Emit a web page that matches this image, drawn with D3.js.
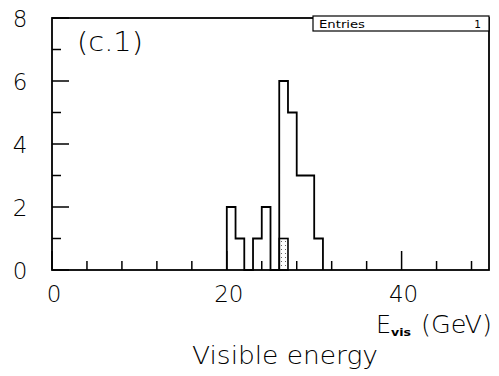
<!DOCTYPE html>
<html>
<head>
<meta charset="utf-8">
<script src="https://cdn.jsdelivr.net/npm/d3@7"></script>
<style>
  html, body { margin: 0; padding: 0; background: #fff; }
  svg text { font-family: "DejaVu Sans", "Open Sans", sans-serif; font-weight: 200; fill: #000; }
</style>
</head>
<body>
<svg id="chart" width="499" height="376"></svg>
<script>
// Histogram of visible energy, 1 GeV bins
const binLow = [20, 21, 22, 23, 24, 25, 26, 27, 28, 29, 30];
const counts = [2, 1, 0, 1, 2, 0, 6, 5, 3, 3, 1];
// Dotted (selected) sub-histogram
const selLow = [26];
const selCounts = [1];
const binWidth = 1;

const xTicksMajor = [0, 20, 40];
const xTicksMinor = [4, 8, 12, 16, 24, 28, 32, 36, 44, 48];
const yTicksMajor = [0, 2, 4, 6, 8];
const yTicksMinor = [1, 3, 5, 7];

const svg = d3.select("#chart");
const x = d3.scaleLinear().domain([0, 50]).range([52, 489]);
const y = d3.scaleLinear().domain([0, 8]).range([270, 18]);

// dotted fill pattern
const defs = svg.append("defs");
const pat = defs.append("pattern").attr("id", "dots")
  .attr("patternUnits", "userSpaceOnUse").attr("width", 4).attr("height", 4);
pat.append("rect").attr("x", 1).attr("y", 1).attr("width", 1).attr("height", 1).attr("fill", "#666");

// step outline helper
function stepPoints(lows, vals) {
  const pts = [];
  lows.forEach((lo, i) => {
    if (i === 0) pts.push([lo, 0]);
    pts.push([lo, vals[i]]);
    pts.push([lo + binWidth, vals[i]]);
  });
  pts.push([lows[lows.length - 1] + binWidth, 0]);
  return pts;
}
const line = d3.line().x(d => x(d[0])).y(d => y(d[1]));

// selected bins, dotted
svg.append("g").selectAll("rect").data(selLow).join("rect")
  .attr("x", d => x(d))
  .attr("y", (d, i) => y(selCounts[i]))
  .attr("width", d => x(d + binWidth) - x(d))
  .attr("height", (d, i) => y(0) - y(selCounts[i]))
  .attr("fill", "url(#dots)")
  .attr("stroke", "#000").attr("stroke-width", 1.6);

// main histogram outline
svg.append("path").attr("d", line(stepPoints(binLow, counts)))
  .attr("fill", "none").attr("stroke", "#000").attr("stroke-width", 1.8);

// frame
svg.append("rect").attr("x", x(0)).attr("y", y(8))
  .attr("width", x(50) - x(0)).attr("height", y(0) - y(8))
  .attr("fill", "none").attr("stroke", "#000").attr("stroke-width", 1.8);

// axis ticks
const ga = svg.append("g").attr("stroke", "#000").attr("stroke-width", 1.5);
ga.selectAll(".ymaj").data(yTicksMajor).join("line")
  .attr("x1", x(0)).attr("x2", x(0) + 17).attr("y1", d => y(d)).attr("y2", d => y(d));
ga.selectAll(".ymin").data(yTicksMinor).join("line")
  .attr("x1", x(0)).attr("x2", x(0) + 9).attr("y1", d => y(d)).attr("y2", d => y(d));
ga.selectAll(".xmaj").data(xTicksMajor).join("line")
  .attr("x1", d => x(d)).attr("x2", d => x(d)).attr("y1", y(0)).attr("y2", y(0) - 19);
ga.selectAll(".xmin").data(xTicksMinor).join("line")
  .attr("x1", d => x(d)).attr("x2", d => x(d)).attr("y1", y(0)).attr("y2", y(0) - 9);

// tick labels
svg.append("g").selectAll("text").data(yTicksMajor).join("text")
  .attr("x", 20).attr("y", d => y(d) + 9)
  .attr("text-anchor", "middle").attr("font-size", 23)
  .text(d => d);
svg.append("g").selectAll("text").data(xTicksMajor).join("text")
  .attr("x", d => x(d) + 2).attr("y", 302)
  .attr("text-anchor", "middle").attr("font-size", 23)
  .text(d => d);

// panel tag
svg.append("text").attr("x", 77).attr("y", 51).attr("font-size", 27)
  .attr("textLength", 66).attr("lengthAdjust", "spacingAndGlyphs").text("(c.1)");

// statistics box
svg.append("rect").attr("x", 313).attr("y", y(8) - 2).attr("width", x(50) - 313).attr("height", 15)
  .attr("fill", "#fff").attr("stroke", "#000").attr("stroke-width", 1.2);
svg.append("text").attr("x", 319).attr("y", 28).attr("font-size", 10.5).style("font-weight", 400)
  .attr("textLength", 46).attr("lengthAdjust", "spacingAndGlyphs").text("Entries");
svg.append("text").attr("x", 481).attr("y", 28).attr("font-size", 10.5).style("font-weight", 400)
  .attr("text-anchor", "end").text("1");

// axis titles
const xt = svg.append("g");
xt.append("text").attr("x", 376).attr("y", 333).attr("font-size", 24).text("E");
xt.append("text").attr("x", 391).attr("y", 336).attr("font-size", 10).style("font-weight", 700)
  .attr("textLength", 20).attr("lengthAdjust", "spacingAndGlyphs").text("vis");
xt.append("text").attr("x", 421).attr("y", 333).attr("font-size", 25)
  .attr("textLength", 71).attr("lengthAdjust", "spacingAndGlyphs").text("(GeV)");
svg.append("text").attr("x", 285).attr("y", 364).attr("text-anchor", "middle")
  .attr("font-size", 24).attr("textLength", 186).attr("lengthAdjust", "spacingAndGlyphs")
  .text("Visible energy");
</script>
</body>
</html>
